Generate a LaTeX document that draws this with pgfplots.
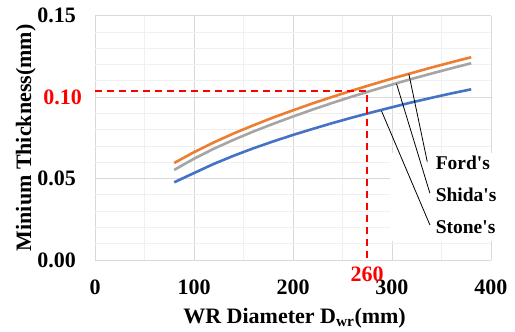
\documentclass[border=0pt]{standalone}
\usepackage{pgfplots}
\pgfplotsset{compat=1.18}
\usepackage{fontspec}
\setmainfont{Liberation Serif}
\definecolor{cOrange}{HTML}{ED7D31}
\definecolor{cGray}{HTML}{A5A5A5}
\definecolor{cBlue}{HTML}{4472C4}
\definecolor{gridmaj}{HTML}{D9D9D9}
\definecolor{gridmin}{HTML}{F0F0F0}
\newcommand{\bigfont}{\rmfamily\fontsize{22bp}{26bp}\selectfont\bfseries}
\newcommand{\smallfont}{\rmfamily\fontsize{19.5bp}{23bp}\selectfont\bfseries}
\begin{document}
\begin{tikzpicture}[font=\bigfont]
\useasboundingbox (0,0) rectangle (515bp,332bp);
\begin{axis}[
 at={(95bp,72bp)}, anchor=south west,
 scale only axis, width=396bp, height=244.3bp,
 xmin=0, xmax=400, ymin=0, ymax=0.15,
 xtick={0,100,200,300,400}, ytick={0,0.05,0.10,0.15},
 xticklabels={0,100,200,300,400},
 yticklabels={0.00,0.05,,0.15},
 minor x tick num=1, minor y tick num=4,
 grid=both,
 major grid style={gridmaj, line width=0.9bp},
 minor grid style={gridmin, line width=0.9bp},
 axis line style={draw=none},
 major tick length=0pt, minor tick length=0pt,
 /pgf/number format/assume math mode=true,
 every tick label/.append style={font=\bigfont},
 every axis label/.append style={font=\bigfont},
 xticklabel style={anchor=north, inner sep=0pt, yshift=-20bp},
 yticklabel style={anchor=east, inner sep=0pt, xshift=-19bp},
 xlabel={WR Diameter D\textsubscript{wr}(mm)},
 ylabel={Minium Thickness(mm)},
 xlabel style={at={(axis description cs:0.504,-0.259)}, anchor=base, inner sep=0pt, font=\bigfont},
 ylabel style={at={(axis description cs:-0.1616,0.5)}, anchor=base, inner sep=0pt, font=\bigfont},
 clip=false,
]
\fill[white] (axis cs:297.5,0.0115) rectangle (axis cs:412,0.066);

% Stone's
\addplot[cBlue, line width=2.6bp] coordinates {
(80,0.0477) (100,0.0534) (120,0.0590) (140,0.0640) (160,0.0686) (180,0.0728)
(200,0.0768) (220,0.0805) (240,0.0841) (260,0.0875) (280,0.0907) (300,0.0938)
(320,0.0968) (340,0.0996) (360,0.1023) (380,0.1048)};
% Shida's
\addplot[cGray, line width=2.6bp] coordinates {
(80,0.0553) (100,0.0622) (120,0.0683) (140,0.0738) (160,0.0789) (180,0.0836)
(200,0.0881) (220,0.0924) (240,0.0965) (260,0.1004) (280,0.1041) (300,0.1077)
(320,0.1112) (340,0.1145) (360,0.1177) (380,0.1208)};
% Ford's
\addplot[cOrange, line width=2.6bp] coordinates {
(80,0.0596) (100,0.0662) (120,0.0722) (140,0.0777) (160,0.0827) (180,0.0875)
(200,0.0919) (220,0.0962) (240,0.1002) (260,0.1041) (280,0.1078) (300,0.1114)
(320,0.1148) (340,0.1182) (360,0.1214) (380,0.1245)};

% red guide lines
\addplot[red, line width=1.8bp, dash pattern=on 7bp off 5bp] coordinates {(0,0.1038) (275,0.1038) (275,0)};

\node[anchor=east, red, inner sep=0pt, xshift=-13bp, font=\bigfont] at (axis cs:0,0.10) {0.10};
\node[anchor=north, red, inner sep=0pt, yshift=-6.7bp, font=\bigfont] at (axis cs:275,0) {260};

% leader lines
\draw[black, line width=0.8bp] (axis cs:317,0.1143) -- (axis cs:335.6,0.0604);
\draw[black, line width=0.8bp] (axis cs:304.6,0.1082) -- (axis cs:338.3,0.0410);
\draw[black, line width=0.8bp] (axis cs:289.4,0.0915) -- (axis cs:338.3,0.0215);

\node[anchor=base west, inner sep=0pt, font=\smallfont] at (axis cs:344,0.0553) {Ford\textquotesingle s};
\node[anchor=base west, inner sep=0pt, font=\smallfont] at (axis cs:344,0.0358) {Shida\textquotesingle s};
\node[anchor=base west, inner sep=0pt, font=\smallfont] at (axis cs:344,0.0164) {Stone\textquotesingle s};
\end{axis}
\end{tikzpicture}
\end{document}
